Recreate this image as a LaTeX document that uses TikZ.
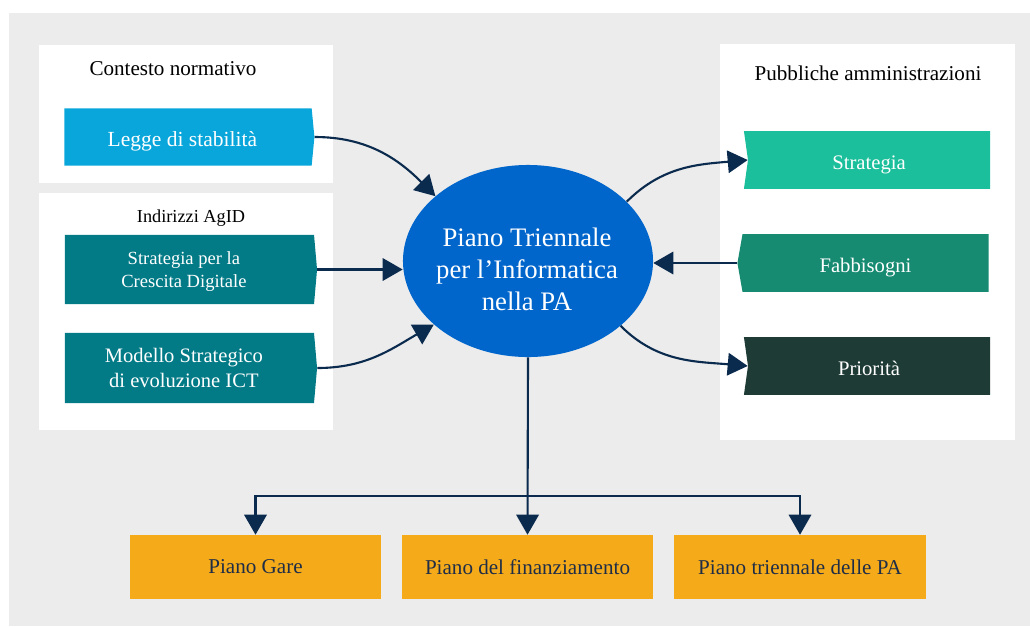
\documentclass[tikz,border=0pt]{standalone}
\usepackage{fontspec}
\setmainfont{Liberation Serif}
\usetikzlibrary{shapes.geometric,shapes.symbols,arrows.meta}

\definecolor{sfondo}{HTML}{ECECEC}
\definecolor{azzurro}{HTML}{09A6DB}
\definecolor{petrolio}{HTML}{037B87}
\definecolor{blupiano}{HTML}{0066CC}
\definecolor{verdeA}{HTML}{1CBF9B}
\definecolor{verdeB}{HTML}{168B72}
\definecolor{verdeC}{HTML}{1E3B36}
\definecolor{arancio}{HTML}{F5AB19}
\definecolor{freccia}{HTML}{0A2A4E}
\definecolor{testoscuro}{HTML}{1F2D47}

\begin{document}
\begin{tikzpicture}[x=0.025cm, y=-0.025cm,
    every node/.style={inner sep=0pt},
    titolo/.style={font=\fontsize{15}{18}\selectfont, text=black},
    lbox/.style={shape=signal, signal to=east, signal pointer angle=169, fill=#1,
        text=white, align=center, minimum width=6.3cm, font=\fontsize{14.6}{17.7}\selectfont},
    rbox/.style={shape=signal, signal to=nowhere, signal from=west, signal pointer angle=164,
        fill=#1, text=white, minimum width=6.15cm, minimum height=1.44cm,
        text height=13pt, text depth=0pt, font=\fontsize{14.7}{18}\selectfont},
    piano/.style={rectangle, fill=arancio, text=testoscuro, minimum width=6.275cm,
        minimum height=1.6cm, font=\fontsize{15}{18}\selectfont},
    conn/.style={draw=freccia, line width=1.5pt, -{Triangle[length=0.5cm, width=0.56cm]}}
  ]
    \useasboundingbox (0,0) rectangle (1030,626);
    \fill[sfondo] (9,13) rectangle (1030,626);

    % pannelli bianchi
    \fill[white] (39,45) rectangle (333,183);
    \fill[white] (39,193) rectangle (333,430);
    \fill[white] (720,44) rectangle (1015,440);

    \node[titolo] (ctx) at (173,69) {Contesto normativo};
    \node[titolo, font=\fontsize{13}{16}\selectfont] (agid) at (191,218) {Indirizzi AgID};
    \node[titolo] (pa) at (868,73) {Pubbliche amministrazioni};

    % sinistra
    \node[lbox=azzurro, minimum width=6.25cm, minimum height=1.43cm, text height=13pt,
        text depth=0pt, font=\fontsize{15.3}{18}\selectfont] (legge) at (188,137) {Legge di stabilità\hspace*{8pt}};
    \node[lbox=petrolio, minimum height=1.73cm, signal pointer angle=170, text depth=0pt,
        font=\fontsize{13.2}{16.5}\selectfont] (crescita) at (189.5,269.5) {Strategia per la\hspace*{8pt}\\Crescita Digitale\hspace*{8pt}};
    \node[lbox=petrolio, minimum height=1.75cm, signal pointer angle=170] (modello) at (189.5,368) {Modello Strategico\hspace*{8pt}\\ di evoluzione ICT\hspace*{8pt}};

    % centro
    \node[ellipse, fill=blupiano, minimum width=6.25cm, minimum height=4.8cm] (plan) at (528,261) {};
    \node[text=white, align=center, font=\fontsize{19}{22.7}\selectfont] (plantxt) at (527,269)
        {Piano Triennale\\per l'Informatica\\nella PA};

    % destra
    \node[rbox=verdeA] (strat) at (869,160) {Strategia};
    \node[rbox=verdeB, signal from=nowhere, signal to=west, signal pointer angle=160,
        minimum width=6.275cm] (fabb) at (865.5,263) {Fabbisogni};
    \node[rbox=verdeC] (prio) at (869,366) {Priorità};

    % piani
    \node[piano] (gare) at (255.5,567) {Piano Gare};
    \node[piano] (fin) at (527.5,567) {Piano del finanziamento};
    \node[piano] (trien) at (800,567) {Piano triennale delle PA};
    \coordinate (split) at (527.5,496);

    % frecce
    \draw[conn] (legge.east) to[out=0, in=135] (plan.145);
    \draw[conn] (crescita.east) -- (plan.west |- crescita.east);
    \draw[conn] (modello.east) to[out=0, in=210] (plan.214);
    \draw[conn] (plan.31) to[out=45, in=185] (strat.west);
    \draw[conn] (fabb.west) -- (plan.east |- fabb.west);
    \draw[conn] (plan.-35) to[out=-45, in=175] (prio.west);
    \draw[conn] (plan.south) -- (fin.north);
    \draw[conn] (split) -- (gare.north |- split) -- (gare.north);
    \draw[conn] (split) -- (trien.north |- split) -- (trien.north);
\end{tikzpicture}
\end{document}
